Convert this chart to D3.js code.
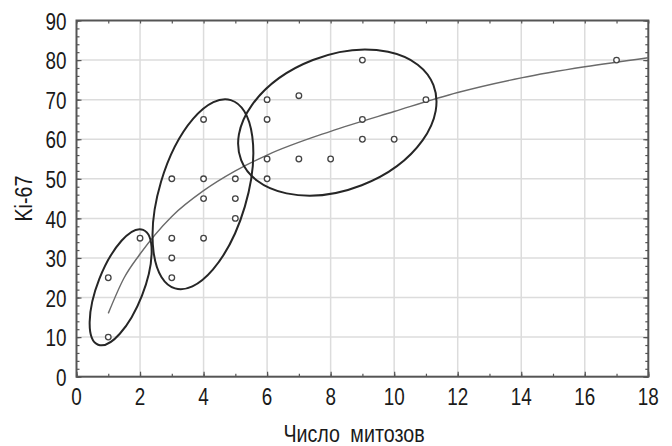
<!DOCTYPE html>
<html>
<head>
<meta charset="utf-8">
<script src="https://cdn.jsdelivr.net/npm/d3@7"></script>
<style>
  body { margin: 0; background: #fff; }
  text { font-family: "Liberation Sans Narrow", "Arial Narrow", "Liberation Sans", sans-serif; fill: #1a1a1a; }
</style>
</head>
<body>
<svg id="viz"></svg>
<script>
var width = 672;
var height = 446;

// mitoses count vs Ki-67
var mitoses = [1, 1, 2, 3, 3, 3, 3, 4, 4, 4, 4, 5, 5, 5, 6, 6, 6, 6, 7, 7, 8, 9, 9, 9, 10, 11, 17];
var ki67    = [25, 10, 35, 50, 35, 30, 25, 65, 50, 45, 35, 50, 45, 40, 70, 65, 55, 50, 71, 55, 55, 80, 65, 60, 60, 70, 80];

// fitted curve
var trendX = [1, 1.5, 2, 3, 4, 5, 6, 8, 10, 12, 14, 16, 18];
var trendY = [16, 25, 31, 40.5, 47, 52, 56, 62, 67, 71.8, 75.5, 78.3, 80.6];

var xTicks = [0, 2, 4, 6, 8, 10, 12, 14, 16, 18];
var yTicks = [0, 10, 20, 30, 40, 50, 60, 70, 80, 90];

// group outlines: centre in data units
var groupX = [1.39, 3.98, 8.21];
var groupY = [22.6, 46.1, 64.2];

var margin = {top: 20.5, right: 23.7, bottom: 69.3, left: 76.5};
var narrow = 0.82; // squeeze text, the original font is condensed

var svg = d3.select("#viz")
    .attr("width", width)
    .attr("height", height);

var x = d3.scaleLinear().domain([0, 18]).range([margin.left, width - margin.right]);
var y = d3.scaleLinear().domain([0, 90]).range([height - margin.bottom, margin.top]);

// grid
svg.append("g").selectAll("line.vg")
    .data(xTicks.slice(1, -1))
    .enter().append("line")
    .attr("x1", d => x(d)).attr("x2", d => x(d))
    .attr("y1", y(0)).attr("y2", y(90))
    .attr("stroke", "#dcdcdc").attr("stroke-width", 1.5);

svg.append("g").selectAll("line.hg")
    .data(yTicks.slice(1, -1))
    .enter().append("line")
    .attr("x1", x(0)).attr("x2", x(18))
    .attr("y1", d => y(d)).attr("y2", d => y(d))
    .attr("stroke", "#dcdcdc").attr("stroke-width", 1.5);

// axes with inner ticks
var axisColor = "#555";
var yMinor = d3.range(0, 91, 2);
var xMinor = d3.range(0, 19, 1);

function tickStyle(g) {
    g.select(".domain").remove();
    g.selectAll(".tick line").attr("stroke", axisColor).attr("stroke-width", 1.2);
    g.selectAll(".tick text").remove();
}

svg.append("g").attr("transform", "translate(" + x(0) + ",0)")
    .call(d3.axisRight(y).tickValues(yMinor).tickSize(3)).call(tickStyle);
svg.append("g").attr("transform", "translate(" + x(0) + ",0)")
    .call(d3.axisRight(y).tickValues(yTicks).tickSize(5)).call(tickStyle);
svg.append("g").attr("transform", "translate(" + x(18) + ",0)")
    .call(d3.axisLeft(y).tickValues(yMinor).tickSize(3)).call(tickStyle);
svg.append("g").attr("transform", "translate(" + x(18) + ",0)")
    .call(d3.axisLeft(y).tickValues(yTicks).tickSize(5)).call(tickStyle);
svg.append("g").attr("transform", "translate(0," + y(0) + ")")
    .call(d3.axisTop(x).tickValues(xMinor).tickSize(3)).call(tickStyle);
svg.append("g").attr("transform", "translate(0," + y(0) + ")")
    .call(d3.axisTop(x).tickValues(xTicks).tickSize(5)).call(tickStyle);
svg.append("g").attr("transform", "translate(0," + y(90) + ")")
    .call(d3.axisBottom(x).tickValues(xMinor).tickSize(3)).call(tickStyle);

svg.append("rect")
    .attr("x", x(0)).attr("y", y(90))
    .attr("width", x(18) - x(0)).attr("height", y(0) - y(90))
    .attr("fill", "none").attr("stroke", axisColor).attr("stroke-width", 2);

// tick labels
svg.append("g").selectAll("text")
    .data(yTicks)
    .enter().append("text")
    .attr("transform", d => "translate(" + (x(0) - 10) + "," + y(d) + ") scale(" + narrow + ",1)")
    .attr("dy", "0.4em")
    .attr("text-anchor", "end")
    .attr("font-size", 23)
    .text(d => d);

svg.append("g").selectAll("text")
    .data(xTicks)
    .enter().append("text")
    .attr("transform", d => "translate(" + x(d) + "," + (y(0) + 28) + ") scale(" + narrow + ",1)")
    .attr("text-anchor", "middle")
    .attr("font-size", 23)
    .text(d => d);

svg.append("text")
    .attr("transform", "translate(354,442) scale(" + narrow + ",1)")
    .attr("text-anchor", "middle")
    .attr("font-size", 24)
    .attr("word-spacing", 6)
    .text("Число митозов");

svg.append("text")
    .attr("transform", "translate(32," + ((y(0) + y(90)) / 2) + ") rotate(-90) scale(" + narrow + ",1)")
    .attr("text-anchor", "middle")
    .attr("font-size", 24)
    .text("Ki-67");

// trend curve
var trend = trendX.map((d, i) => [d, trendY[i]]);
svg.append("path")
    .datum(trend)
    .attr("d", d3.line().x(d => x(d[0])).y(d => y(d[1])).curve(d3.curveMonotoneX))
    .attr("fill", "none")
    .attr("stroke", "#6a6a6a")
    .attr("stroke-width", 1.4);

// group ellipses
var ellipseShape = [
    {rx: 61.7, ry: 22.9, angle: -68.6},
    {rx: 98.2, ry: 43.7, angle: -73.5},
    {rx: 103.2, ry: 67.2, angle: -21.3}
];
svg.append("g").selectAll("ellipse")
    .data(groupX)
    .enter().append("ellipse")
    .attr("transform", (d, i) => "translate(" + x(d) + "," + y(groupY[i]) + ") rotate(" + ellipseShape[i].angle + ")")
    .attr("rx", (d, i) => ellipseShape[i].rx)
    .attr("ry", (d, i) => ellipseShape[i].ry)
    .attr("fill", "none")
    .attr("stroke", "#262626")
    .attr("stroke-width", 2);

// points
svg.append("g").selectAll("circle")
    .data(mitoses)
    .enter().append("circle")
    .attr("cx", d => x(d))
    .attr("cy", (d, i) => y(ki67[i]))
    .attr("r", 2.8)
    .attr("fill", "#fff")
    .attr("stroke", "#444")
    .attr("stroke-width", 1.3);
</script>
</body>
</html>
